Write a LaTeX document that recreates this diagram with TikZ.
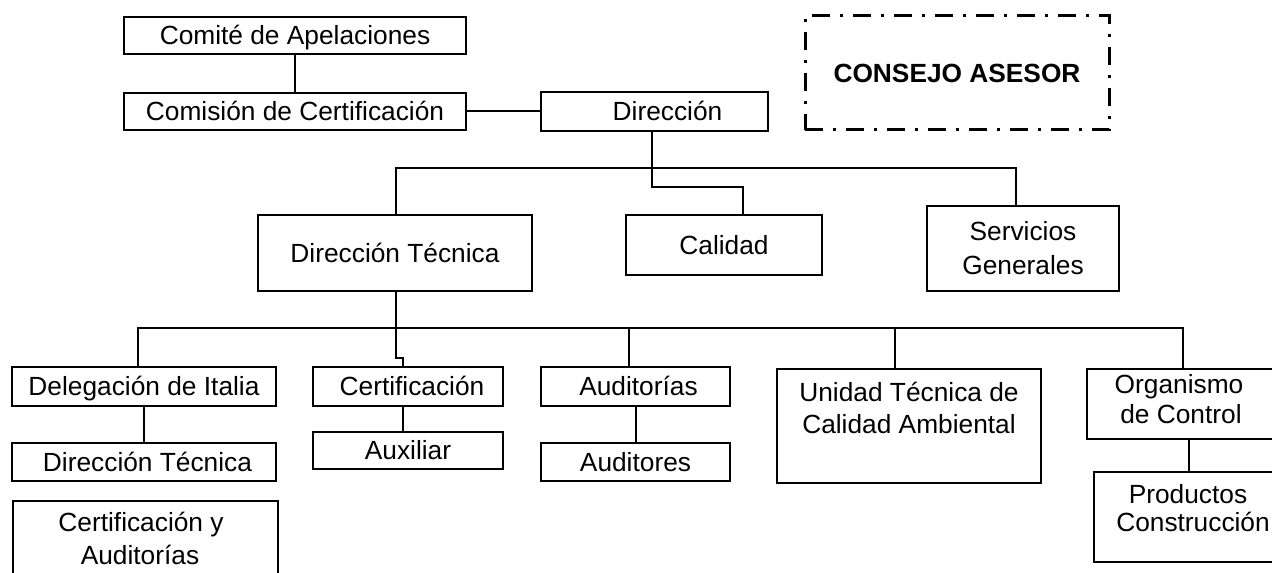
\documentclass[tikz,border=0pt]{standalone}
\usepackage{fontspec}
\setmainfont{Liberation Sans}
\begin{document}
\begin{tikzpicture}[x=0.5pt,y=-0.5pt,
  box/.style={draw=black, line width=1pt, rectangle, inner sep=0pt,
    font=\fontsize{13.15}{16}\selectfont, text height=11pt, text depth=1.58pt},
  txt/.style={inner sep=0pt, font=\fontsize{13.15}{16}\selectfont, text height=11pt, text depth=1.58pt},
  conn/.style={draw=black, line width=1pt},
  dashdot/.style={draw=black, line width=1.5pt, dash pattern=on 9pt off 5pt on 1.5pt off 5pt}]
\useasboundingbox (0,0) rectangle (1272,572);
\clip (0,0) rectangle (1272,572);
\fill[white] (0,0) rectangle (1272,572);
% top row
\node[box, minimum width=171pt, minimum height=18.5pt] (comite) at (295,35.5) {Comité de Apelaciones};
\node[box, minimum width=171pt, minimum height=18.5pt] (comision) at (295,111.5) {Comisión de Certificación\hspace{9.5pt}};
\node[box, minimum width=113.5pt, minimum height=19.5pt] (direccion) at (654.5,111.5) {\hspace*{13pt}Dirección};
\node[box, dashdot, minimum width=152pt, minimum height=57pt, font=\fontsize{13.15}{16}\selectfont\bfseries] (consejo) at (957,73) {CONSEJO ASESOR};
% second row
\node[box, minimum width=137pt, minimum height=38pt] (dt) at (395,253) {Dirección Técnica};
\node[box, minimum width=98pt, minimum height=30pt] (calidad) at (724,245) {Calidad};
\node[box, minimum width=96pt, minimum height=42.5pt] (servicios) at (1023,248.5) {};
\node[txt] (servicios-1) at (1023,231.5) {Servicios};
\node[txt] (servicios-2) at (1023,265) {Generales};
% third row
\node[box, minimum width=132pt, minimum height=19.5pt] (delegacion) at (144,386.5) {Delegación de Italia};
\node[box, minimum width=132pt, minimum height=19pt] (dt2) at (144,462) {\hspace*{3.5pt}Dirección Técnica};
\node[box, minimum width=132.5pt, minimum height=49.5pt] (certaud) at (145.5,550.5) {};
\node[txt] (certaud-1) at (141,522) {Certificación y};
\node[txt] (certaud-2) at (140,555) {Auditorías};
\node[box, minimum width=95pt, minimum height=19.5pt] (certif) at (408,386.5) {\hspace*{4pt}Certificación};
\node[box, minimum width=95pt, minimum height=18.5pt] (auxiliar) at (408,450.5) {Auxiliar\hspace{6pt}};
\node[box, minimum width=94.5pt, minimum height=19.5pt] (auditorias) at (635.5,386.5) {\hspace*{3pt}Auditorías};
\node[box, minimum width=94.5pt, minimum height=19pt] (auditores) at (635.5,462) {Auditores};
\node[box, minimum width=132pt, minimum height=57pt] (unidad) at (909,426) {};
\node[txt] (unidad-1) at (909,392) {Unidad Técnica de};
\node[txt] (unidad-2) at (909,424) {Calidad Ambiental};
\node[box, minimum width=94pt, minimum height=35pt] (organismo) at (1181,404) {};
\node[txt] (organismo-1) at (1179,384) {Organismo};
\node[txt] (organismo-2) at (1181,414) {de Control};
\node[box, minimum width=97pt, minimum height=45pt] (productos) at (1191,517) {};
\node[txt] (productos-1) at (1188,494) {Productos};
\node[txt] (productos-2) at (1193,522.5) {Construcción};
% junction coordinates
\coordinate (j1) at (652,187);
\coordinate (j2) at (743,187);
\coordinate (b1l) at (396,168);
\coordinate (b1r) at (1016,168);
\coordinate (j3) at (396,358);
\coordinate (j4) at (403,358);
\coordinate (b2a) at (138,328);
\coordinate (b2b) at (629,328);
\coordinate (b2c) at (895,328);
\coordinate (b2e) at (1183,328);
\coordinate (j5) at (1189,455);
% connectors
\draw[conn] (comite.south) -- (comision.north);
\draw[conn] (comision.east) -- (direccion.west);
\draw[conn] (j1 |- direccion.south) -- (j1) -- (j2) -- (j2 |- calidad.north);
\draw[conn] (b1l |- dt.north) -- (b1l) -- (b1r) -- (b1r |- servicios.north);
\draw[conn] (j3 |- dt.south) -- (j3) -- (j4) -- (j4 |- certif.north);
\draw[conn] (b2a |- delegacion.north) -- (b2a) -- (b2e) -- (b2e |- organismo.north);
\draw[conn] (b2b) -- (b2b |- auditorias.north);
\draw[conn] (b2c) -- (b2c |- unidad.north);
\draw[conn] (delegacion.south) -- (dt2.north);
\draw[conn] (j4 |- certif.south) -- (j4 |- auxiliar.north);
\draw[conn] ([xshift=0.25pt]auditorias.south) -- ([xshift=0.25pt]auditores.north);
\draw[conn] (j5 |- organismo.south) -- (j5 |- productos.north);
\end{tikzpicture}
\end{document}
